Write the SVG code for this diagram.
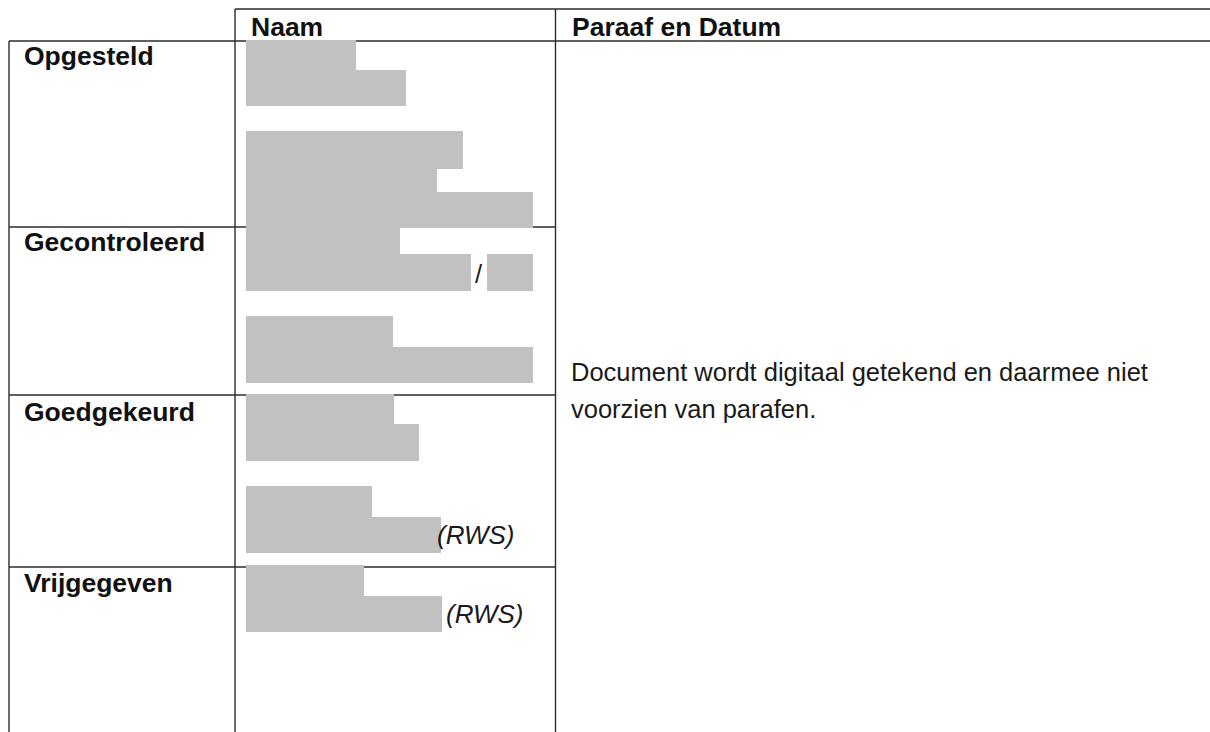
<svg xmlns="http://www.w3.org/2000/svg" width="1210" height="732" viewBox="0 0 1210 732">
  <style>
    .grid { stroke: #2b2b2b; stroke-width: 1.4; fill: none; }
    .hdr { font-family: "Liberation Sans", Arial, sans-serif; font-weight: bold; font-size: 26.5px; fill: #111; }
    .lbl { font-family: "Liberation Sans", Arial, sans-serif; font-weight: bold; font-size: 26.5px; fill: #111; }
    .txt { font-family: "Liberation Sans", Arial, sans-serif; font-size: 25.5px; fill: #1a1a1a; }
    .it { font-family: "Liberation Sans", Arial, sans-serif; font-style: italic; font-size: 26px; fill: #1a1a1a; }
    .redact { fill: #c1c1c1; }
  </style>
  <rect width="1210" height="732" fill="#ffffff"/>

  <!-- table rules -->
  <g id="connectors" class="grid">
    <line x1="235" y1="9" x2="1210" y2="9"/>
    <line x1="9" y1="41" x2="1210" y2="41"/>
    <line x1="9" y1="227" x2="555.5" y2="227"/>
    <line x1="9" y1="395" x2="555.5" y2="395"/>
    <line x1="9" y1="567" x2="555.5" y2="567"/>
    <line x1="9" y1="41" x2="9" y2="732"/>
    <line x1="235" y1="9" x2="235" y2="732"/>
    <line x1="555.5" y1="9" x2="555.5" y2="732"/>
  </g>

  <!-- header row -->
  <g id="header">
    <text class="hdr" x="251" y="36">Naam</text>
    <text class="hdr" x="572" y="36">Paraaf en Datum</text>
  </g>

  <!-- row labels and redacted names -->
  <g id="row-opgesteld">
    <text class="lbl" x="24" y="65">Opgesteld</text>
    <rect class="redact" x="246" y="40" width="110" height="31"/>
    <rect class="redact" x="246" y="70" width="160" height="36"/>
    <rect class="redact" x="246" y="131" width="217" height="38"/>
    <rect class="redact" x="246" y="168" width="191" height="25"/>
    <rect class="redact" x="246" y="192" width="287" height="36"/>
  </g>

  <g id="row-gecontroleerd">
    <text class="lbl" x="24" y="251">Gecontroleerd</text>
    <rect class="redact" x="246" y="227" width="154" height="28"/>
    <rect class="redact" x="246" y="254" width="225" height="37"/>
    <text class="txt" x="475" y="283">/</text>
    <rect class="redact" x="487" y="254" width="46" height="37"/>
    <rect class="redact" x="246" y="316" width="147" height="32"/>
    <rect class="redact" x="246" y="347" width="287" height="36"/>
  </g>

  <g id="row-goedgekeurd">
    <text class="lbl" x="24" y="421">Goedgekeurd</text>
    <rect class="redact" x="246" y="394" width="148" height="31"/>
    <rect class="redact" x="246" y="424" width="173" height="37"/>
    <rect class="redact" x="246" y="486" width="126" height="32"/>
    <rect class="redact" x="246" y="517" width="195" height="36"/>
    <text class="it" x="437" y="544">(RWS)</text>
  </g>

  <g id="row-vrijgegeven">
    <text class="lbl" x="24" y="592">Vrijgegeven</text>
    <rect class="redact" x="246" y="565" width="118" height="32"/>
    <rect class="redact" x="246" y="596" width="196" height="36"/>
    <text class="it" x="446" y="623">(RWS)</text>
  </g>

  <!-- signature column -->
  <g id="signature-note">
    <text class="txt" x="571" y="381">Document wordt digitaal getekend en daarmee niet</text>
    <text class="txt" x="571" y="418">voorzien van parafen.</text>
  </g>
</svg>
